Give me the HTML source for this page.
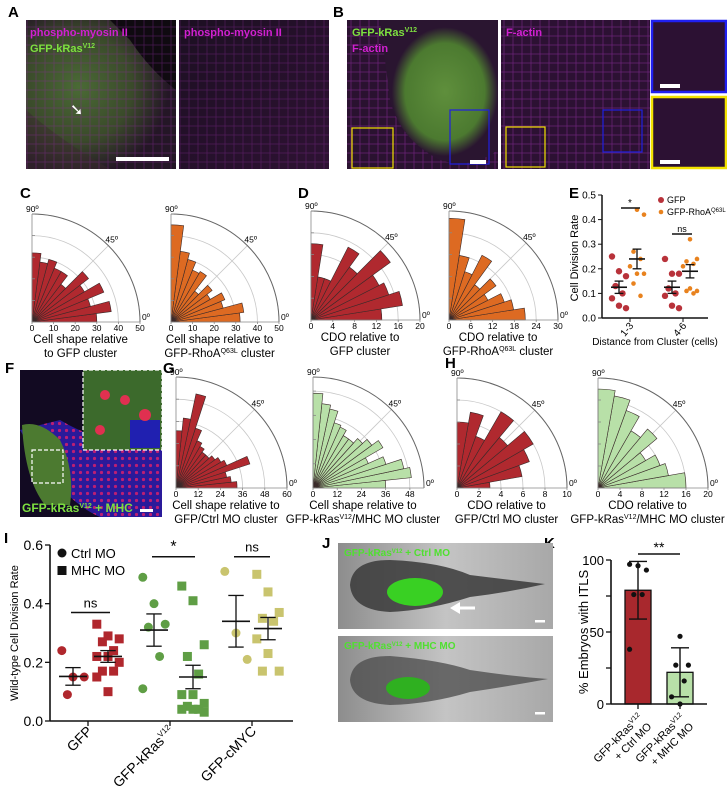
<!DOCTYPE html>
<html><head><meta charset="utf-8">
<style>
html,body{margin:0;padding:0;background:#fff;}
svg{display:block;font-family:"Liberation Sans",Arial,sans-serif;}
</style></head>
<body>
<svg id="fig" width="727" height="787" viewBox="0 0 727 787" xmlns="http://www.w3.org/2000/svg">
<defs>
<radialGradient id="gA" cx="0.35" cy="0.45" r="0.6"><stop offset="0" stop-color="#4a6a35"/><stop offset="0.6" stop-color="#3a4a2a"/><stop offset="1" stop-color="#241626"/></radialGradient>
<linearGradient id="gA2" x1="0" y1="0" x2="1" y2="1"><stop offset="0" stop-color="#1c0f22"/><stop offset="1" stop-color="#2e1233"/></linearGradient>
<radialGradient id="gB" cx="0.55" cy="0.5" r="0.45"><stop offset="0" stop-color="#5f8f3c"/><stop offset="0.75" stop-color="#4c7a30"/><stop offset="1" stop-color="#2a1530"/></radialGradient>
<linearGradient id="gJ" x1="0" y1="0" x2="1" y2="0"><stop offset="0" stop-color="#8d8d8d"/><stop offset="0.5" stop-color="#c4c4c4"/><stop offset="1" stop-color="#a8a8a8"/></linearGradient>
<pattern id="dots" width="7" height="7" patternUnits="userSpaceOnUse"><circle cx="3.5" cy="3.5" r="1.6" fill="#e0206a"/></pattern>
<pattern id="cellsM" width="9" height="9" patternUnits="userSpaceOnUse"><rect width="9" height="9" fill="none" stroke="#8a2a9a" stroke-width="0.7"/></pattern>
</defs>

<!-- Panel A -->
<text x="8" y="17" font-size="15" font-weight="bold">A</text>
<g>
<rect x="26" y="20" width="150" height="149" fill="url(#gA)"/>
<path d="M110 20 L176 20 L176 90 Q150 70 130 40 Z" fill="#0f0a10"/>
<path d="M26 110 L26 169 L110 169 Q60 140 26 110Z" fill="#3a2a2e" opacity="0.5"/>
<rect x="26" y="20" width="150" height="149" fill="url(#cellsM)" opacity="0.5"/>
<text x="30" y="36" font-size="11" font-weight="bold" fill="#d020d0">phospho-myosin II</text>
<text x="30" y="52" font-size="11" font-weight="bold" fill="#7ee040">GFP-kRas<tspan font-size="7" dy="-4">V12</tspan></text>
<rect x="116" y="157" width="53" height="4" fill="#fff"/>
<text x="70" y="115" font-size="16" fill="#fff">➘</text>
</g>
<g>
<rect x="179" y="20" width="150" height="149" fill="url(#gA2)"/>
<rect x="179" y="20" width="150" height="149" fill="url(#cellsM)" opacity="0.45"/>
<text x="184" y="36" font-size="11" font-weight="bold" fill="#d020d0">phospho-myosin II</text>
</g>

<!-- Panel B -->
<text x="333" y="17" font-size="15" font-weight="bold">B</text>
<g>
<rect x="347" y="20" width="151" height="149" fill="#2a1230"/>
<rect x="347" y="20" width="151" height="149" fill="url(#cellsM)" opacity="0.7"/>
<path d="M380 20 L498 20 L498 150 Q470 170 440 160 Q400 140 390 100 Q385 60 380 20Z" fill="url(#gB)"/>
<rect x="352" y="128" width="41" height="40" fill="none" stroke="#f2e200" stroke-width="1.2"/>
<rect x="450" y="110" width="39" height="54" fill="none" stroke="#2020e0" stroke-width="1.2"/>
<text x="352" y="36" font-size="11" font-weight="bold" fill="#7ee040">GFP-kRas<tspan font-size="7" dy="-4">V12</tspan></text>
<text x="352" y="52" font-size="11" font-weight="bold" fill="#d020d0">F-actin</text>
<rect x="470" y="160" width="16" height="4" fill="#fff"/>
</g>
<g>
<rect x="501" y="20" width="149" height="149" fill="#2c1133"/>
<rect x="501" y="20" width="149" height="149" fill="url(#cellsM)" opacity="0.7"/>
<rect x="506" y="127" width="39" height="40" fill="none" stroke="#f2e200" stroke-width="1.2"/>
<rect x="603" y="110" width="39" height="42" fill="none" stroke="#2020e0" stroke-width="1.2"/>
<text x="506" y="36" font-size="11" font-weight="bold" fill="#d020d0">F-actin</text>
</g>
<g>
<rect x="652" y="21" width="74" height="71" fill="#2c1133" stroke="#2020f0" stroke-width="2.5"/>
<rect x="652" y="97" width="74" height="71" fill="#2c1133" stroke="#f2e200" stroke-width="2.5"/>
<rect x="660" y="84" width="20" height="4" fill="#fff"/>
<rect x="660" y="160" width="20" height="4" fill="#fff"/>
</g>

<!-- Panel labels -->
<text x="20" y="198" font-size="15" font-weight="bold">C</text>
<text x="298" y="198" font-size="15" font-weight="bold">D</text>
<text x="569" y="198" font-size="15" font-weight="bold">E</text>
<text x="5" y="373" font-size="15" font-weight="bold">F</text>
<text x="163" y="373" font-size="15" font-weight="bold">G</text>
<text x="445" y="368" font-size="15" font-weight="bold">H</text>
<text x="4" y="543" font-size="15" font-weight="bold">I</text>
<text x="322" y="548" font-size="15" font-weight="bold">J</text>
<text x="544" y="548" font-size="15" font-weight="bold">K</text>

<!-- Panel F image -->
<g>
<rect x="20" y="370" width="142" height="147" fill="#120a22"/>
<path d="M20 430 Q60 500 100 517 L162 517 L162 440 Q110 450 60 420 Z" fill="#2a1a9a"/>
<path d="M20 430 Q60 500 100 517 L162 517 L162 440 Q110 450 60 420 Z" fill="url(#dots)" opacity="0.8"/>
<path d="M22 425 Q40 420 60 440 Q75 470 70 505 L45 505 Q25 480 22 425Z" fill="#4c7a30"/>
<rect x="83" y="370" width="79" height="80" fill="#3c6a2c" stroke="#fff" stroke-width="1.2" stroke-dasharray="4,2"/>
<rect x="130" y="420" width="30" height="28" fill="#2020b0"/>
<circle cx="105" cy="395" r="5" fill="#e03050"/><circle cx="125" cy="400" r="5" fill="#e03050"/><circle cx="145" cy="415" r="6" fill="#e03050"/><circle cx="100" cy="430" r="5" fill="#e03050"/>
<rect x="32" y="450" width="31" height="33" fill="none" stroke="#fff" stroke-width="1.2" stroke-dasharray="4,2"/>
<text x="22" y="512" font-size="12" font-weight="bold" fill="#7ee040">GFP-kRas<tspan font-size="7" dy="-4">V12</tspan><tspan dy="4"> + MHC</tspan></text>
<rect x="140" y="509" width="13" height="3" fill="#fff"/>
</g>

<!-- Panel J images -->
<g>
<rect x="338" y="543" width="215" height="86" fill="url(#gJ)"/>
<path d="M350 585 Q352 560 390 560 Q440 562 470 575 Q510 580 545 584 Q510 592 470 597 Q430 610 390 612 Q352 610 350 585Z" fill="#3a3a3a" opacity="0.85"/>
<ellipse cx="415" cy="592" rx="28" ry="14" fill="#39d023"/>
<text x="344" y="556" font-size="10" font-weight="bold" fill="#50e030">GFP-kRas<tspan font-size="6" dy="-3">V12</tspan><tspan dy="3"> + Ctrl MO</tspan></text>
<path d="M455 608 L475 608" stroke="#fff" stroke-width="3"/><path d="M450 608 L460 602 L460 614Z" fill="#fff"/>
<rect x="535" y="620" width="10" height="2.5" fill="#fff"/>
</g>
<g>
<rect x="338" y="636" width="215" height="86" fill="url(#gJ)"/>
<path d="M350 680 Q352 656 390 656 Q440 660 470 670 Q510 676 548 679 Q510 686 470 692 Q430 704 390 705 Q352 703 350 680Z" fill="#4a4a4a" opacity="0.75"/>
<ellipse cx="408" cy="688" rx="22" ry="11" fill="#2fb020"/>
<text x="344" y="649" font-size="10" font-weight="bold" fill="#50e030">GFP-kRas<tspan font-size="6" dy="-3">V12</tspan><tspan dy="3"> + MHC MO</tspan></text>
<rect x="535" y="712" width="10" height="2.5" fill="#fff"/>
</g>

<g id="charts"></g>
</svg>

<script>
// ---------- Rose chart data ----------
const c1Values = [30, 37, 28, 36, 28, 33, 22, 27, 27, 30, 28, 32];
const c1Ticks = [0, 10, 20, 30, 40, 50];
const c2Values = [32, 34, 25, 27, 21, 24, 18, 27, 26, 30, 33, 45];
const c2Ticks = [0, 10, 20, 30, 40, 50];
const d1Values = [13, 17, 15, 14, 18, 12, 15, 8, 8, 14];
const d1Ticks = [0, 4, 8, 12, 16, 20];
const d2Values = [21, 18, 16, 12, 16, 12, 20, 14, 18, 28];
const d2Ticks = [0, 6, 12, 18, 24, 30];
const g1Values = [33, 30, 28, 42, 30, 28, 26, 24, 24, 26, 28, 34, 52, 38, 31];
const g1Ticks = [0, 12, 24, 36, 48, 60];
const g2Values = [36, 49, 46, 38, 30, 40, 36, 33, 30, 30, 33, 34, 40, 42, 47];
const g2Ticks = [0, 12, 24, 36, 48];
const h1Values = [3, 6, 7, 8, 6, 8, 5, 7, 6];
const h1Ticks = [0, 2, 4, 6, 8, 10];
const h2Values = [16, 13, 12, 10, 14, 12, 15, 17, 18];
const h2Ticks = [0, 4, 8, 12, 16, 20];

// ---------- Panel E data ----------
const eCategories = ["1-3", "4-6"];
const eGfp = [[0.25,0.19,0.17,0.13,0.10,0.08,0.05,0.04],[0.24,0.18,0.18,0.12,0.10,0.09,0.05,0.04]];
const eRhoa = [[0.44,0.42,0.27,0.24,0.21,0.18,0.18,0.14,0.09],[0.32,0.24,0.23,0.22,0.21,0.12,0.11,0.11,0.10]];
const eGfpMean = [0.125, 0.125];
const eGfpSem = [0.025, 0.025];
const eRhoaMean = [0.24, 0.19];
const eRhoaSem = [0.04, 0.027];
const eTicks = [0, 0.1, 0.2, 0.3, 0.4, 0.5];
const eTickLabels = ["0.0","0.1","0.2","0.3","0.4","0.5"];

// ---------- Panel I data ----------
const iCategories = ["GFP", "GFP-kRas", "GFP-cMYC"];
const iCtrl = [[0.24,0.15,0.15,0.09],[0.49,0.40,0.33,0.32,0.22,0.11],[0.51,0.30,0.21]];
const iMhc = [[0.33,0.29,0.28,0.27,0.24,0.22,0.22,0.20,0.17,0.17,0.15,0.10],
              [0.46,0.41,0.26,0.22,0.16,0.09,0.09,0.06,0.05,0.04,0.04,0.04,0.03],
              [0.50,0.44,0.37,0.35,0.34,0.28,0.23,0.17,0.17]];
const iCtrlMean = [0.152, 0.31, 0.34];
const iCtrlSem = [0.03, 0.055, 0.088];
const iMhcMean = [0.22, 0.15, 0.315];
const iMhcSem = [0.02, 0.04, 0.038];
const iSig = ["ns", "*", "ns"];
const iTicks = [0, 0.2, 0.4, 0.6];
const iTickLabels = ["0.0","0.2","0.4","0.6"];

// ---------- Panel K data ----------
const kCategories = ["Ctrl MO", "MHC MO"];
const kMeans = [79, 22];
const kSd = [20, 17];
const kPoints = [[97, 96, 93, 76, 76, 38], [47, 27, 27, 16, 5, 0]];
const kTicks = [0, 25, 50, 75, 100];
const kTickLabels = ["0", "", "50", "", "100"];

const NS = "http://www.w3.org/2000/svg";
const root = document.getElementById("charts");
function mk(tag, attrs, parent) {
  const e = document.createElementNS(NS, tag);
  for (const k in attrs) e.setAttribute(k, attrs[k]);
  (parent || root).appendChild(e);
  return e;
}
function txt(x, y, s, size, parent, anchor) {
  const t = mk("text", {x: x, y: y, "font-size": size, "text-anchor": anchor || "start"}, parent);
  t.textContent = s;
  return t;
}

function drawRose(name, ox, oy, R, maxV, ticks, values, color, title1, title2, sup) {
  const g = mk("g", {});
  
  
  const r = v => v / maxV * R;
  const pt = (a, rad) => [ox + rad * Math.cos(a * Math.PI / 180), oy - rad * Math.sin(a * Math.PI / 180)];
  // grid arcs
  ticks.forEach(t => {
    if (t === 0) return;
    const rr = r(t);
    const a = mk("path", {d: `M${ox + rr} ${oy} A${rr} ${rr} 0 0 0 ${ox} ${oy - rr}`, fill: "none", stroke: "#c8c8c8", "stroke-width": 0.8}, g);
    
    
  });
  const p45 = pt(45, R);
  mk("line", {x1: ox + (p45[0] - ox) * 0.3, y1: oy - (oy - p45[1]) * 0.3, x2: p45[0], y2: p45[1], stroke: "#c8c8c8", "stroke-width": 0.8}, g);
  // bars
  const n = values.length, step = 90 / n;
  values.forEach((v, i) => {
    const a0 = i * step, a1 = (i + 1) * step, rr = r(v);
    const p0 = pt(a0, rr), p1 = pt(a1, rr);
    const b = mk("path", {d: `M${ox} ${oy} L${p0[0]} ${p0[1]} A${rr} ${rr} 0 0 0 ${p1[0]} ${p1[1]} Z`, fill: color, stroke: "#3a2a2a", "stroke-width": 0.6}, g);
    
    
  });
  // outer arc + axes
  mk("path", {d: `M${ox + R} ${oy} A${R} ${R} 0 0 0 ${ox} ${oy - R}`, fill: "none", stroke: "#666", "stroke-width": 1}, g);
  mk("line", {x1: ox, y1: oy, x2: ox, y2: oy - R, stroke: "#888", "stroke-width": 0.8}, g);
  mk("line", {x1: ox, y1: oy, x2: ox + R, y2: oy, stroke: "#888", "stroke-width": 0.8}, g);
  ticks.forEach(t => {
    mk("line", {x1: ox, y1: oy - r(t), x2: ox + 3, y2: oy - r(t), stroke: "#888", "stroke-width": 0.8}, g);
    mk("line", {x1: ox + r(t), y1: oy, x2: ox + r(t), y2: oy + 2, stroke: "#888", "stroke-width": 0.8}, g);
    const l = txt(ox + r(t), oy + 9, String(t), 8.5, g, "middle");
    
    
  });
  txt(ox - 6, oy - R - 2, "90º", 8.5, g);
  txt(p45[0] - 3, p45[1] - 3, "45º", 8.5, g);
  txt(ox + R + 2, oy - 2, "0º", 8.5, g);
  const cx = ox + R * 0.45;
  const t1 = txt(cx, oy + 21, title1, 11.5, g, "middle");
  
  
  const t2 = mk("text", {x: cx, y: oy + 35, "font-size": 11.5, "text-anchor": "middle"}, g);
  t2.innerHTML = title2;
}

const RED = "#b0292f", ORANGE = "#dd6a22", LGREEN = "#b8e0a8";
drawRose("rose-c-gfp", 32, 322, 108, 50, c1Ticks, c1Values, RED, "Cell shape relative", "to GFP cluster");
drawRose("rose-c-rhoa", 171, 322, 108, 50, c2Ticks, c2Values, ORANGE, "Cell shape relative to", 'GFP-RhoA<tspan font-size="7" dy="-4">Q63L</tspan><tspan dy="4"> cluster</tspan>');
drawRose("rose-d-gfp", 311, 320, 109, 20, d1Ticks, d1Values, RED, "CDO relative to", "GFP cluster");
drawRose("rose-d-rhoa", 449, 320, 109, 30, d2Ticks, d2Values, ORANGE, "CDO relative to", 'GFP-RhoA<tspan font-size="7" dy="-4">Q63L</tspan><tspan dy="4"> cluster</tspan>');
drawRose("rose-g-ctrl", 176, 488, 111, 60, g1Ticks, g1Values, RED, "Cell shape relative to", "GFP/Ctrl MO cluster");
drawRose("rose-g-mhc", 313, 488, 111, 55, g2Ticks, g2Values, LGREEN, "Cell shape relative to", 'GFP-kRas<tspan font-size="7" dy="-4">V12</tspan><tspan dy="4">/MHC MO cluster</tspan>');
drawRose("rose-h-ctrl", 457, 488, 110, 10, h1Ticks, h1Values, RED, "CDO relative to", "GFP/Ctrl MO cluster");
drawRose("rose-h-mhc", 598, 488, 110, 20, h2Ticks, h2Values, LGREEN, "CDO relative to", 'GFP-kRas<tspan font-size="7" dy="-4">V12</tspan><tspan dy="4">/MHC MO cluster</tspan>');

function errbar(g, x, mean, sem, yf, hw) {
  mk("line", {x1: x - hw, x2: x + hw, y1: yf(mean), y2: yf(mean), stroke: "#111", "stroke-width": 1.6}, g);
  mk("line", {x1: x, x2: x, y1: yf(mean - sem), y2: yf(mean + sem), stroke: "#111", "stroke-width": 1.3}, g);
  mk("line", {x1: x - hw * 0.55, x2: x + hw * 0.55, y1: yf(mean + sem), y2: yf(mean + sem), stroke: "#111", "stroke-width": 1.3}, g);
  mk("line", {x1: x - hw * 0.55, x2: x + hw * 0.55, y1: yf(mean - sem), y2: yf(mean - sem), stroke: "#111", "stroke-width": 1.3}, g);
}
function jitter(k) { return ((k * 7) % 5 - 2) * 3.5; }

// ---------- Panel E ----------
(function () {
  const g = mk("g", {});
  
  
  const y = v => 318 - v / 0.5 * 123;
  const catX = [630, 683];
  mk("line", {x1: 602, y1: y(0.5), x2: 602, y2: 318, stroke: "#111", "stroke-width": 1.5}, g);
  mk("line", {x1: 602, y1: 318, x2: 708, y2: 318, stroke: "#111", "stroke-width": 1.5}, g);
  eTicks.forEach((t, i) => {
    mk("line", {x1: 598, y1: y(t), x2: 602, y2: y(t), stroke: "#111"}, g);
    txt(596, y(t) + 3.5, eTickLabels[i], 10, g, "end");
  });
  const yt = txt(0, 0, "Cell Division Rate", 11, g, "middle");
  yt.setAttribute("transform", "translate(578,258) rotate(-90)");
  
  
  eCategories.forEach((c, i) => {
    mk("line", {x1: catX[i], y1: 318, x2: catX[i], y2: 322, stroke: "#111"}, g);
    const l = txt(0, 0, c, 10, g, "end");
    l.setAttribute("transform", `translate(${catX[i] + 4},${326}) rotate(-50)`);
    
    
    eGfp[i].forEach((v, k) => {
      const d = mk("circle", {cx: catX[i] - 11 + jitter(k), cy: y(v), r: 3.2, fill: "#b8323a"}, g);
      
      
    });
    eRhoa[i].forEach((v, k) => {
      const d = mk("circle", {cx: catX[i] + 7 + jitter(k + 1), cy: y(v), r: 2.3, fill: "#e8821e"}, g);
      
      
    });
    errbar(g, catX[i] - 11, eGfpMean[i], eGfpSem[i], y, 8);
    errbar(g, catX[i] + 7, eRhoaMean[i], eRhoaSem[i], y, 8);
  });
  mk("line", {x1: 621, x2: 640, y1: 208, y2: 208, stroke: "#111", "stroke-width": 1.5}, g);
  txt(630, 206, "*", 10, g, "middle");
  mk("line", {x1: 672, x2: 692, y1: 234, y2: 234, stroke: "#111", "stroke-width": 1.5}, g);
  txt(682, 232, "ns", 9, g, "middle");
  txt(655, 345, "Distance from Cluster (cells)", 10, g, "middle");
  mk("circle", {cx: 661, cy: 200, r: 3, fill: "#b8323a"}, g);
  txt(667, 203, "GFP", 9, g);
  mk("circle", {cx: 661, cy: 212, r: 2.3, fill: "#e8821e"}, g);
  const lt = mk("text", {x: 667, y: 215, "font-size": 9}, g);
  lt.innerHTML = 'GFP-RhoA<tspan font-size="6" dy="-3">Q63L</tspan>';
})();

// ---------- Panel I ----------
(function () {
  const g = mk("g", {});
  
  
  const y = v => 721 - v / 0.6 * 176;
  const catX = [88, 170, 252];
  const ctrlOff = [-15, -16, -16], mhcOff = [20, 23, 16];
  const cols = ["#b0272d", "#5f9e45", "#c9c46e"];
  mk("line", {x1: 50, y1: y(0.6), x2: 50, y2: 721, stroke: "#111", "stroke-width": 1.6}, g);
  mk("line", {x1: 50, y1: 721, x2: 293, y2: 721, stroke: "#111", "stroke-width": 1.6}, g);
  iTicks.forEach((t, i) => {
    mk("line", {x1: 45, y1: y(t), x2: 50, y2: y(t), stroke: "#111", "stroke-width": 1.3}, g);
    const l = txt(43, y(t) + 5, iTickLabels[i], 14, g, "end");
    
    
  });
  const yt = txt(0, 0, "Wild-type Cell Division Rate", 11, g, "middle");
  yt.setAttribute("transform", "translate(18,633) rotate(-90)");
  
  
  iCategories.forEach((c, i) => {
    mk("line", {x1: catX[i], y1: 721, x2: catX[i], y2: 726, stroke: "#111", "stroke-width": 1.3}, g);
    const l = mk("text", {"font-size": 14, "text-anchor": "end", transform: `translate(${catX[i] + 5},${732}) rotate(-45)`}, g);
    l.innerHTML = c === "GFP-kRas" ? 'GFP-kRas<tspan font-size="8" dy="-6">V12</tspan>' : c;
    
    
    const cx = catX[i] + ctrlOff[i], mx = catX[i] + mhcOff[i];
    iCtrl[i].forEach((v, k) => {
      const d = mk("circle", {cx: cx + jitter(k) * 1.6, cy: y(v), r: 4.5, fill: cols[i]}, g);
      
      
    });
    iMhc[i].forEach((v, k) => {
      const d = mk("rect", {x: mx + jitter(k) * 1.6 - 4.5, y: y(v) - 4.5, width: 9, height: 9, fill: cols[i]}, g);
      
      
    });
    errbar(g, cx, iCtrlMean[i], iCtrlSem[i], y, 14);
    errbar(g, mx, iMhcMean[i], iMhcSem[i], y, 14);
    const top = Math.max(...iCtrl[i], ...iMhc[i]);
    const ly = i === 0 ? y(0.37) : y(0.56);
    mk("line", {x1: cx - 2, x2: mx + 2, y1: ly, y2: ly, stroke: "#111", "stroke-width": 1.5}, g);
    txt((cx + mx) / 2, ly - 5, iSig[i], iSig[i] === "*" ? 16 : 13, g, "middle");
  });
  mk("circle", {cx: 62, cy: 553, r: 4.5, fill: "#111"}, g);
  txt(71, 558, "Ctrl MO", 13, g);
  mk("rect", {x: 57.5, y: 566, width: 9, height: 9, fill: "#111"}, g);
  txt(71, 575, "MHC MO", 13, g);
})();

// ---------- Panel K ----------
(function () {
  const g = mk("g", {});
  
  
  const y = v => 704 - v / 100 * 144;
  const barX = [625, 667], bw = 26;
  const fills = ["#a8282d", "#b8e0a8"];
  kTicks.forEach((t, i) => {
    mk("line", {x1: 606, y1: y(t), x2: 611, y2: y(t), stroke: "#111", "stroke-width": 1.3}, g);
    txt(604, y(t) + 5, kTickLabels[i], 13, g, "end");
  });
  const yt = txt(0, 0, "% Embryos with ITLS", 13, g, "middle");
  yt.setAttribute("transform", "translate(588,632) rotate(-90)");
  
  
  kCategories.forEach((c, i) => {
    const b = mk("rect", {x: barX[i], y: y(kMeans[i]), width: bw, height: 704 - y(kMeans[i]), fill: fills[i], stroke: "#111", "stroke-width": 1.3}, g);
    
    
    const cx = barX[i] + bw / 2;
    mk("line", {x1: cx, x2: cx, y1: y(kMeans[i] - kSd[i]), y2: y(kMeans[i] + kSd[i]), stroke: "#111", "stroke-width": 1.4}, g);
    mk("line", {x1: cx - 9, x2: cx + 9, y1: y(kMeans[i] + kSd[i]), y2: y(kMeans[i] + kSd[i]), stroke: "#111", "stroke-width": 1.4}, g);
    mk("line", {x1: cx - 9, x2: cx + 9, y1: y(kMeans[i] - kSd[i]), y2: y(kMeans[i] - kSd[i]), stroke: "#111", "stroke-width": 1.4}, g);
    kPoints[i].forEach((v, k) => {
      const d = mk("circle", {cx: cx + jitter(k + i) * 1.2, cy: y(v), r: 2.6, fill: "#111"}, g);
      
      
    });
    mk("line", {x1: cx, x2: cx, y1: 704, y2: 709, stroke: "#111", "stroke-width": 1.3}, g);
    const l = mk("text", {"font-size": 11, "text-anchor": "end", transform: `translate(${cx + 5},${718}) rotate(-45)`}, g);
    l.innerHTML = `<tspan x="0" dy="0">GFP-kRas<tspan font-size="7" dy="-4">V12</tspan></tspan><tspan x="0" dy="17">+ ${c}</tspan>`;
    
    
  });
  mk("line", {x1: 611, y1: y(100), x2: 611, y2: 704, stroke: "#111", "stroke-width": 1.6}, g);
  mk("line", {x1: 611, y1: 704, x2: 707, y2: 704, stroke: "#111", "stroke-width": 1.6}, g);
  mk("line", {x1: 638, x2: 680, y1: 554, y2: 554, stroke: "#111", "stroke-width": 1.5}, g);
  txt(659, 552, "**", 14, g, "middle");
})();
</script>
</body></html>
